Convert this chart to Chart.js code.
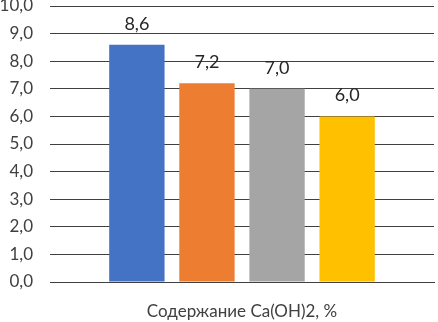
<!DOCTYPE html>
<html>
<head>
<meta charset="utf-8">
<script src="https://cdn.jsdelivr.net/npm/chart.js@4/dist/chart.umd.min.js"></script>
<style>
  html, body { margin: 0; padding: 0; background: #fff; }
  #wrap { width: 438px; height: 322px; }
</style>
</head>
<body>
<div id="wrap"><canvas id="chart" width="438" height="322"></canvas></div>
<script>
// data
const categories = ['Содержание Ca(OH)2, %'];
const seriesNames = ['Ряд1', 'Ряд2', 'Ряд3', 'Ряд4'];
const seriesValues = [8.6, 7.2, 7.0, 6.0];
const seriesColors = ['#4472C4', '#ED7D31', '#A5A5A5', '#FFC000'];
const yTicks = [0, 1, 2, 3, 4, 5, 6, 7, 8, 9, 10];

const FONT = 'Lato, "Open Sans", sans-serif';
const fmt = (v) => Number(v).toFixed(1).replace('.', ',');

// value labels above the bars
const barLabels = {
    id: 'barLabels',
    afterDatasetsDraw(chart) {
        const ctx = chart.ctx;
        ctx.save();
        ctx.font = '18px ' + FONT;
        ctx.fillStyle = '#262626';
        ctx.textAlign = 'center';
        ctx.textBaseline = 'alphabetic';
        chart.data.datasets.forEach((ds, i) => {
            chart.getDatasetMeta(i).data.forEach((bar, j) => {
                ctx.fillText(fmt(ds.data[j]), bar.x, bar.y - 15);
            });
        });
        ctx.restore();
    }
};

const datasets = seriesNames.map((name, i) => ({
    label: name,
    data: [seriesValues[i]],
    backgroundColor: seriesColors[i],
    borderWidth: 0
}));

new Chart(document.getElementById('chart'), {
    type: 'bar',
    data: { labels: categories, datasets },
    options: {
        responsive: false,
        animation: false,
        categoryPercentage: 0.73,
        barPercentage: 0.79,
        layout: { padding: { top: 6, right: 4, left: 0, bottom: 0 } },
        plugins: {
            legend: { display: false },
            tooltip: { enabled: false }
        },
        scales: {
            x: {
                grid: { display: false, drawTicks: false },
                border: { color: '#404040', width: 1 },
                ticks: {
                    color: '#404040',
                    font: { family: FONT, size: 17 },
                    padding: 19
                },
                afterFit(scale) { scale.height = 40; }
            },
            y: {
                min: 0,
                max: 10,
                afterBuildTicks(scale) {
                    scale.ticks = yTicks.map(v => ({ value: v }));
                },
                grid: { color: '#404040', drawTicks: false },
                border: { display: false },
                ticks: {
                    color: '#404040',
                    font: { family: FONT, size: 17 },
                    padding: 17,
                    callback: (v) => fmt(v)
                },
                afterFit(scale) {
                    scale.width = 50;
                    // let the top label run off the canvas, as in the original
                    scale.paddingTop = 0;
                    scale.paddingBottom = 0;
                }
            }
        }
    },
    plugins: [barLabels]
});
</script>
</body>
</html>
